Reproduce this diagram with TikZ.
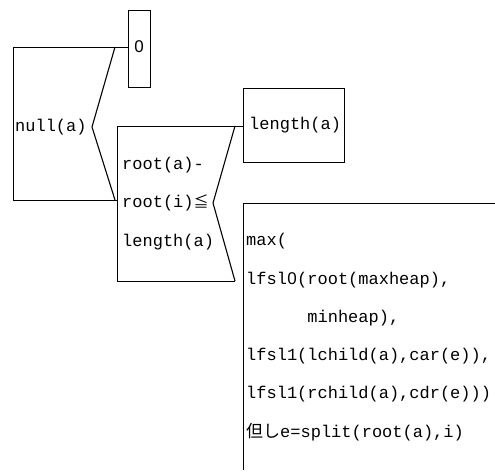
\documentclass[tikz,border=0pt]{standalone}
\usepackage{fontspec}
\setmonofont{Liberation Mono}
\newfontfamily\cjk{Noto Sans CJK JP}
\newfontfamily\plainsans{Liberation Sans}
% undotted zero, kept at the monospaced advance width
\newcommand{\zeroglyph}{\makebox[0.6em]{\plainsans 0}}
\begin{document}
\begin{tikzpicture}[x=1pt,y=-1pt,
  frame/.style={line width=0.9pt,black},
  fork/.style={line width=1.1pt,black},
  code/.style={font=\ttfamily\fontsize{17}{19}\selectfont,inner sep=0pt,anchor=west}]
\useasboundingbox (0,0) rectangle (495,474);

% outer test: null(a)
\draw[frame] (128,47) -- (13,47) -- (13,200) -- (117,200);
\draw[fork] (115,47) -- (92,127) -- (115,200);
\node[code] (nulla) at (15,127) {null(a)};

% result box for the true branch
\draw[frame] (128,10) rectangle (150,87);
\node[code,anchor=center] (zero) at (139,47) {\zeroglyph};

% inner test on root(a)-root(i)
\draw[frame] (243,126) -- (117,126) -- (117,281) -- (235,281);
\draw[fork] (235,126) -- (213,203) -- (235,281);
\node[code] (c1) at (122,165) {root(a)-};
\node[code] (c2) at (122,203) {root(i){\cjk\fontsize{15}{16}\selectfont ≦}};
\node[code] (c3) at (122,242) {length(a)};

% result box: length(a)
\draw[frame] (243,88) rectangle (344,162);
\node[code] (len) at (249,125) {length(a)};

% result box: max(...)
\draw[frame] (495,203) -- (243,203) -- (243,470);
\node[code] (m1) at (246,241) {max(};
\node[code] (m2) at (246,280) {lfsl\zeroglyph(root(maxheap),};
\node[code] (m3) at (246,318) {\ \ \ \ \ \ minheap),};
\node[code] (m4) at (246,356) {lfsl1(lchild(a),car(e)),};
\node[code] (m5) at (246,394) {lfsl1(rchild(a),cdr(e)))};
\node[code] (m6) at (246,432) {{\cjk\fontsize{17}{18}\selectfont 但し}e=split(root(a),i)};
\end{tikzpicture}
\end{document}
